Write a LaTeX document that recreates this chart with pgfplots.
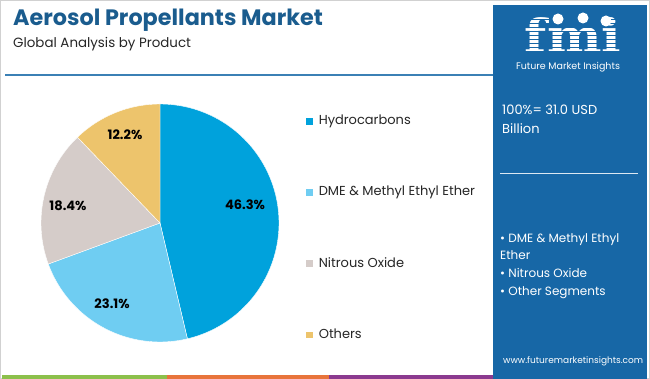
\documentclass[border=0pt]{standalone}
\usepackage{pgfplots}
\pgfplotsset{compat=1.18}
\usepackage{fontspec}
\setmainfont{Poppins}
\newfontfamily\slab{DejaVu Serif}
\definecolor{hc}{HTML}{00A2DC}
\definecolor{dme}{HTML}{6FCDF2}
\definecolor{nox}{HTML}{D5CCC9}
\definecolor{oth}{HTML}{EDC46C}
\definecolor{panel}{HTML}{1767A6}
\definecolor{ttl}{HTML}{1A5C8E}
\definecolor{rule}{HTML}{3B80B5}
\definecolor{barg}{HTML}{8CC04B}
\definecolor{baro}{HTML}{E8743B}
\definecolor{barp}{HTML}{8B3A8F}
% shares (%)
\def\vHC{46.3}
\def\vDME{23.1}
\def\vNO{18.4}
\def\vOT{12.2}
\pgfmathsetmacro\aA{90-3.6*\vHC}
\pgfmathsetmacro\aB{\aA-3.6*\vDME}
\pgfmathsetmacro\aC{\aB-3.6*\vNO}
\pgfmathsetmacro\aD{\aC-3.6*\vOT}
\begin{document}
\begin{tikzpicture}[x=1pt,y=1pt]
\fill[white] (0,0) rectangle (650,379);
\draw[black!18, line width=0.8] (0.4,0.4) rectangle (649.6,378.6);
% titles
\node[anchor=base west, inner sep=0, text=ttl, font=\bfseries\fontsize{22.3}{26}\selectfont] at (13,353) {Aerosol Propellants Market};
\node[anchor=base west, inner sep=0, text=black!85, font=\fontsize{13.4}{16}\selectfont] at (13,331) {Global Analysis by Product};
\draw[rule, line width=1.5] (5,304) -- (493,304);
% bottom bars
\fill[barg] (2,0) rectangle (167,4);
\fill[baro] (167,0) rectangle (329,4);
\fill[barp] (329,0) rectangle (493,4);
% right panel
\fill[panel] (493,0) rectangle (647,374);
\node[anchor=base, inner sep=0, text=white, font=\slab\bfseries\fontsize{46}{46}\selectfont, xscale=1.12] at (573,326) {fmi};
\foreach \yy in {327.5,331.5,...,367.5} \draw[panel, line width=0.9] (518,\yy) -- (630,\yy);
\fill[white] (558,360) circle (5.5);
\fill[white] (583,361) circle (5.5);
\fill[white] (606,358) circle (5.5);
\node[anchor=base, inner sep=0, text=white, font=\fontsize{9.5}{10}\selectfont] at (568,309) {Future Market Insights};
\node[anchor=base west, inner sep=0, text=white, font=\fontsize{13}{15}\selectfont] at (502,264) {100\%= 31.0 USD};
\node[anchor=base west, inner sep=0, text=white, font=\fontsize{13}{15}\selectfont] at (502,245) {Billion};
\draw[white!85!panel, line width=1] (500,205) -- (638,205);
\node[anchor=base west, inner sep=0, text=white, font=\fontsize{12}{14}\selectfont] at (500,136) {\textbullet\ DME \& Methyl Ethyl};
\node[anchor=base west, inner sep=0, text=white, font=\fontsize{12}{14}\selectfont] at (500,119) {Ether};
\node[anchor=base west, inner sep=0, text=white, font=\fontsize{12}{14}\selectfont] at (500,101) {\textbullet\ Nitrous Oxide};
\node[anchor=base west, inner sep=0, text=white, font=\fontsize{12}{14}\selectfont] at (500,83) {\textbullet\ Other Segments};
\node[anchor=base west, inner sep=0, text=white, font=\fontsize{9}{10}\selectfont] at (503,15) {www.futuremarketinsights.com};
% pie
\begin{axis}[at={(160pt,156pt)}, anchor=origin, width=238pt, height=238pt, scale only axis,
  hide axis, xmin=-1, xmax=1, ymin=-1, ymax=1, clip=false,
  legend cell align=left,
  legend image code/.code={\fill[#1] (0pt,-4pt) rectangle (7.5pt,3.5pt); \path (11pt,0pt);},
  legend style={draw=none, fill=none, at={(1.11,0.962)}, anchor=north west,
    row sep=56pt, font=\fontsize{13}{15}\selectfont, text=black!85, inner sep=0pt}]
\addplot[fill=hc, draw=white, line width=0.4pt, domain=\aA:90, samples=90] ({cos(x)},{sin(x)}) -- (axis cs:0,0) -- cycle;
\addlegendentry{Hydrocarbons}
\addplot[fill=dme, draw=white, line width=0.4pt, domain=\aB:\aA, samples=60] ({cos(x)},{sin(x)}) -- (axis cs:0,0) -- cycle;
\addlegendentry{DME \& Methyl Ethyl Ether}
\addplot[fill=nox, draw=white, line width=0.4pt, domain=\aC:\aB, samples=50] ({cos(x)},{sin(x)}) -- (axis cs:0,0) -- cycle;
\addlegendentry{Nitrous Oxide}
\addplot[fill=oth, draw=white, line width=0.4pt, domain=\aD:\aC, samples=40] ({cos(x)},{sin(x)}) -- (axis cs:0,0) -- cycle;
\addlegendentry{Others}
\node[font=\bfseries\fontsize{13}{15}\selectfont] at (axis cs:0.714,0.151) {46.3\%};
\node[font=\bfseries\fontsize{13}{15}\selectfont] at (axis cs:-0.403,-0.681) {23.1\%};
\node[font=\bfseries\fontsize{13}{15}\selectfont] at (axis cs:-0.773,0.143) {18.4\%};
\node[font=\bfseries\fontsize{13}{15}\selectfont] at (axis cs:-0.294,0.739) {12.2\%};
\end{axis}
\end{tikzpicture}
\end{document}
